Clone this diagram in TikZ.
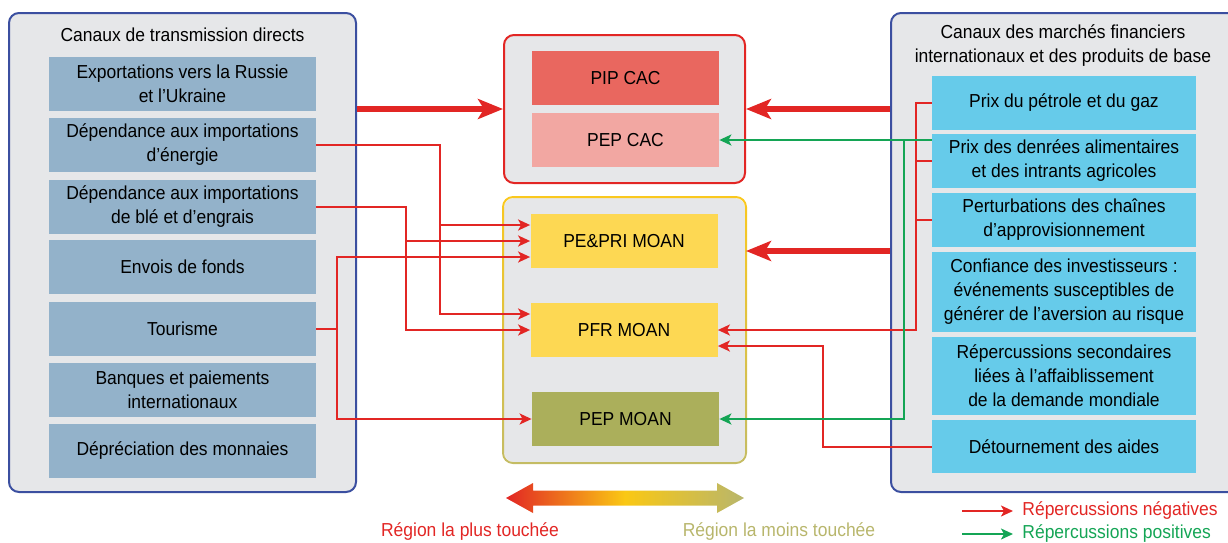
\documentclass[tikz,border=0pt]{standalone}
\usepackage{fontspec}
\setmainfont{Liberation Sans}[FakeStretch=0.93]
\usepackage{tikz}
\usetikzlibrary{arrows.meta,calc}

\definecolor{negred}{RGB}{226,38,36}
\definecolor{posgreen}{RGB}{20,165,85}
\definecolor{panelblue}{RGB}{59,79,160}
\definecolor{panelgray}{RGB}{230,231,233}
\definecolor{steel}{RGB}{147,178,202}
\definecolor{sky}{RGB}{102,203,234}
\definecolor{pipred}{RGB}{233,103,95}
\definecolor{pinkcac}{RGB}{242,167,162}
\definecolor{moanyellow}{RGB}{253,216,83}
\definecolor{moanolive}{RGB}{171,175,91}
\definecolor{lightolive}{RGB}{184,182,108}
\definecolor{goldline}{RGB}{250,200,30}
\definecolor{oliveline}{RGB}{196,188,100}
\definecolor{amber}{RGB}{250,200,20}

\begin{document}
\begin{tikzpicture}[x=0.5pt,y=-0.5pt,
  every node/.style={font=\fontsize{9.4}{12}\selectfont,align=center,inner sep=0pt},
  panel/.style={draw=panelblue,fill=panelgray,line width=1pt,rounded corners=5pt},
  group/.style={fill=panelgray,line width=1pt,rounded corners=5pt},
  chan/.style={fill=steel,minimum width=133.5pt,minimum height=27pt},
  mkt/.style={fill=sky,minimum width=132pt,minimum height=27pt},
  reg/.style={minimum width=93.5pt,minimum height=27pt},
  negline/.style={draw=negred,line width=1pt},
  negarrow/.style={negline,-{Stealth[length=6pt,width=5.5pt,inset=1.5pt]}},
  posarrow/.style={draw=posgreen,line width=1pt,-{Stealth[length=6pt,width=5.5pt,inset=1.5pt]}},
  bigarrow/.style={draw=negred,line width=2.8pt,-{Stealth[length=12.5pt,width=10pt,inset=3pt]}}]
  \useasboundingbox (0,0) rectangle (1228,542);

  \node[panel,minimum width=173.5pt,minimum height=239.5pt] (direct) at (182.5,252.5) {};
  \node (directtitle) at (182.5,35) {Canaux de transmission directs};
  \node[chan] (export) at (182.5,84) {Exportations vers la Russie\\et l’Ukraine};
  \node[chan] (energie) at (182.5,145) {Dépendance aux importations\\d’énergie};
  \node[chan] (ble) at (182.5,207) {Dépendance aux importations\\de blé et d’engrais};
  \node[chan] (fonds) at (182.5,267) {Envois de fonds};
  \node[chan] (tourisme) at (182.5,329) {Tourisme};
  \node[chan] (banques) at (182.5,390) {Banques et paiements\\internationaux};
  \node[chan] (change) at (182.5,451) {Dépréciation des monnaies};

  \node[group,draw=negred,minimum width=120.5pt,minimum height=74pt] (cac) at (624.5,109) {};
  \node[reg,fill=pipred] (pipcac) at (625.5,78) {PIP CAC};
  \node[reg,fill=pinkcac] (pepcac) at (625.5,140) {PEP CAC};
  \node[group,minimum width=120.5pt,minimum height=132pt] (moan) at (624.5,330) {};
  \shade[top color=goldline,bottom color=oliveline,even odd rule]
    [rounded corners=5.5pt] ($(moan.north west)+(-1,-1)$) rectangle ($(moan.south east)+(1,1)$)
    [rounded corners=4.5pt] ($(moan.north west)+(1,1)$) rectangle ($(moan.south east)+(-1,-1)$);
  \node[reg,fill=moanyellow] (pepri) at (624,241) {PE\&PRI MOAN};
  \node[reg,fill=moanyellow] (pfr) at (624,330) {PFR MOAN};
  \node[reg,fill=moanolive] (pepmoan) at (625.5,419) {PEP MOAN};

  \node[panel,minimum width=174.5pt,minimum height=239.5pt] (markets) at (1065.5,252.5) {};
  \node (marketstitle) at (1063,46) {Canaux des marchés financiers\\internationaux et des produits de base};
  \node[mkt] (petrole) at (1064,103) {Prix du pétrole et du gaz};
  \node[mkt] (denrees) at (1064,161) {Prix des denrées alimentaires\\et des intrants agricoles};
  \node[mkt] (chaines) at (1064,220) {Perturbations des chaînes\\d’approvisionnement};
  \node[mkt,minimum height=40pt] (confiance) at (1064,292) {Confiance des investisseurs :\\événements susceptibles de\\générer de l’aversion au risque};
  \node[mkt,minimum height=39pt] (demande) at (1064,376) {Répercussions secondaires\\liées à l’affaiblissement\\de la demande mondiale};
  \node[mkt,minimum height=26.5pt] (aides) at (1064,446.5) {Détournement des aides};

  % big arrows
  \coordinate (moanin) at ($(moan.east |- pepri.east)+(0,10)$);
  \draw[bigarrow] (direct.east |- cac.west) -- (cac.west);
  \draw[bigarrow] (markets.west |- cac.east) -- (cac.east);
  \draw[bigarrow] (markets.west |- moanin) -- (moanin);

  % direct channels
  \coordinate (colE) at (440,0);
  \coordinate (colB) at (406,0);
  \coordinate (colT) at (337,0);
  \coordinate (pepriE) at ($(pepri.west)+(0,-16)$);
  \coordinate (pepriT) at ($(pepri.west)+(0,16)$);
  \coordinate (pfrE) at ($(pfr.west)+(0,-16)$);
  \draw[negarrow] (energie.east) -| (colE |- pfrE) -- (pfrE);
  \draw[negarrow] (colE |- pepriE) -- (pepriE);
  \draw[negarrow] (ble.east) -| (colB |- pfr.west) -- (pfr.west);
  \draw[negarrow] (colB |- pepri.west) -- (pepri.west);
  \draw[negarrow] (tourisme.east) -| (colT |- pepmoan.west) -- (pepmoan.west);
  \draw[negarrow] (tourisme.east -| colT) |- (pepriT);

  % market channels
  \coordinate (colR) at (916,0);
  \coordinate (colA) at (823,0);
  \coordinate (colG) at (904,0);
  \coordinate (pfrA) at ($(pfr.east)+(0,16)$);
  \coordinate (denG) at ($(denrees.west)+(0,-21)$);
  \draw[negarrow] (petrole.west) -| (colR |- pfr.east) -- (pfr.east);
  \draw[negline] (denrees.west) -- (colR |- denrees.west);
  \draw[negline] (chaines.west) -- (colR |- chaines.west);
  \draw[negarrow] (aides.west) -| (colA |- pfrA) -- (pfrA);
  \draw[posarrow] (denG) -- (pepcac.east);
  \draw[posarrow] (colG |- denG) |- (pepmoan.east);

  % scale
  \shade[left color=negred,right color=lightolive,middle color=amber]
    (506,498) -- (533,483) -- (533,490.5) -- (717,490.5) -- (717,483) -- (744,498)
    -- (717,513) -- (717,505.5) -- (533,505.5) -- (533,513) -- cycle;
  \node[text=negred] (plus) at (470,532) {Région la plus touchée};
  \node[text=lightolive] (moins) at (779,532) {Région la moins touchée};

  % legend
  \coordinate (legneg) at (962,511);
  \coordinate (legpos) at (962,534);
  \node[anchor=west,text=negred] (negtxt) at (1022,511) {Répercussions négatives};
  \node[anchor=west,text=posgreen] (postxt) at (1022,534) {Répercussions positives};
  \draw[negarrow,line width=0.8pt] (legneg) -- ([xshift=-4.5pt]negtxt.west |- legneg);
  \draw[posarrow,line width=0.8pt] (legpos) -- ([xshift=-4.5pt]postxt.west |- legpos);
\end{tikzpicture}
\end{document}
